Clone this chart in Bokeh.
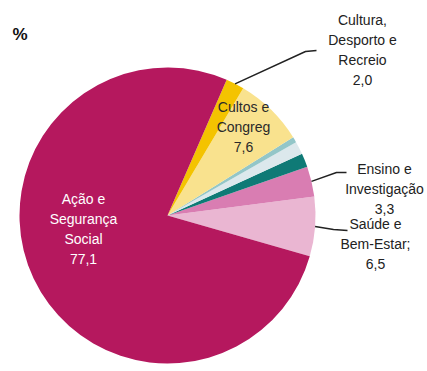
import math
from bokeh.plotting import figure
from bokeh.models import Range1d, ColumnDataSource
from bokeh.core.properties import value
from bokeh.embed import file_html
from bokeh.resources import INLINE

# ---- data ----
categories = ["Saúde e Bem-Estar", "Ensino e Investigação", "Outros A", "Outros B", "Outros C",
              "Cultos e Congregações", "Cultura, Desporto e Recreio", "Ação e Segurança Social"]
values = [6.5, 3.3, 1.5, 1.4, 0.6, 7.6, 2.0, 77.1]
colors = ["#EAB6D2", "#D97DB2", "#0F7A76", "#DCE8EC", "#93C6C8", "#F9E28E", "#F4C300", "#B5185E"]
labels = ["Saúde e\nBem-Estar;\n6,5", "Ensino e\nInvestigação\n3,3", "", "", "",
          "Cultos e\nCongreg\n7,6", "Cultura,\nDesporto e\nRecreio\n2,0", "Ação e\nSegurança\nSocial\n77,1"]

# ---- layout (image pixel coords, y measured downward) ----
W, H = 427, 371
cx, cy_img, R = 167, 215, 148
start_deg = -16.0

def Y(y_img):
    return H - y_img

p = figure(width=W, height=H, output_backend="svg", toolbar_location=None,
           x_range=Range1d(0, W), y_range=Range1d(0, H), min_border=0)
p.axis.visible = False
p.grid.visible = False
p.outline_line_color = None
p.background_fill_color = "white"

total = sum(values)
starts, ends, mids = [], [], []
a = math.radians(start_deg)
for v in values:
    span = v / total * 2 * math.pi
    starts.append(a)
    ends.append(a + span)
    mids.append(a + span / 2)
    a += span

src = ColumnDataSource(dict(start=starts, end=ends, color=colors))
p.wedge(x=cx, y=Y(cy_img), radius=R, radius_units="data", start_angle="start", end_angle="end",
        fill_color="color", line_color=None, source=src)

font = value("Liberation Sans")

# leader lines: (slice index, elbow, end) in image coords
leaders = [(6, (305, 51), (316, 50)),
           (1, (336, 172), (346, 172)),
           (0, (333, 229), (347, 230))]
for idx, elbow, endp in leaders:
    m = mids[idx]
    sx = cx + R * math.cos(m)
    sy = Y(cy_img) + R * math.sin(m)
    p.line([sx, elbow[0], endp[0]], [sy, Y(elbow[1]), Y(endp[1])], line_color="#222222", line_width=1.5)

# label positions (image coords) and colors
label_pos = {0: (375, 243, "#222222"), 1: (384, 188, "#222222"), 5: (243, 126, "#2a2a2a"),
             6: (362, 49, "#222222"), 7: (83, 228, "white")}
for idx, (lx, ly, col) in label_pos.items():
    p.text(x=[lx], y=[Y(ly)], text=[labels[idx]], text_align="center", text_baseline="middle",
           text_font=font, text_font_size="14px", text_color=col, text_line_height=1.25)

p.text(x=[19.5], y=[Y(34)], text=["%"], text_align="center", text_baseline="middle",
       text_font=font, text_font_size="17px", text_font_style="bold", text_color="#111111")

open("out.html", "w").write(file_html(p, INLINE))
